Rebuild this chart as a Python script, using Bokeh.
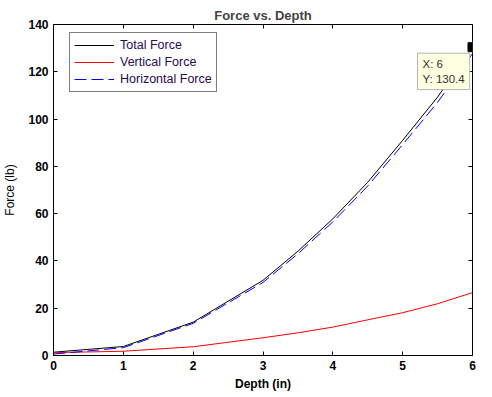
from bokeh.plotting import figure
from bokeh.models import Range1d, LinearAxis, Legend, LegendItem, Label, ColumnDataSource, CustomLabelingPolicy
from bokeh.embed import file_html
from bokeh.resources import INLINE

depth = [0, 1, 2, 3, 3.5, 4, 4.5, 5, 5.5, 6]
total_force = [1.4, 3.8, 14.1, 31.8, 44.1, 57.8, 73.3, 91.0, 109.3, 130.4]
vertical_force = [1.2, 1.8, 3.7, 7.5, 9.6, 12.0, 15.1, 18.1, 21.9, 26.6]
horizontal_force = [0.6, 3.3, 13.6, 30.9, 43.0, 56.5, 71.7, 89.2, 107.1, 127.7]
tip_x = [6]
tip_y = [130.4]
x_ticks = [0, 1, 2, 3, 4, 5, 6]
y_ticks = [0, 20, 40, 60, 80, 100, 120, 140]

FONT = "Liberation Sans"

p = figure(width=492, height=397, output_backend="svg", toolbar_location=None,
           x_range=Range1d(0, 6), y_range=Range1d(0, 140),
           min_border_left=52, min_border_right=20, min_border_top=24, min_border_bottom=42,
           x_axis_type=None, y_axis_type=None)
p.background_fill_color = "white"
p.border_fill_color = "white"
p.outline_line_color = "black"
p.outline_line_width = 1
p.xgrid.visible = False
p.ygrid.visible = False

p.title.text = "Force vs. Depth"
p.title.align = "center"
p.title.vertical_align = "top"
p.title.text_font = FONT
p.title.text_font_size = "13px"
p.title.text_font_style = "bold"
p.title.standoff = 0
p.title.offset = 0

no_labels = CustomLabelingPolicy(code="""
const all = [...indices]
for (const i of all) indices.unset(i)
return indices
""")

def style_axis(ax):
    ax.axis_line_color = "black"
    ax.major_tick_in = 4
    ax.major_tick_out = 0
    ax.minor_tick_line_color = None
    ax.major_tick_line_color = "black"
    ax.major_label_text_font = FONT
    ax.major_label_text_font_style = "bold"
    ax.major_label_text_font_size = "12px"
    ax.major_label_text_color = "black"
    ax.axis_label_text_font = FONT
    ax.axis_label_text_font_size = "12px"
    ax.axis_label_text_color = "black"

xb = LinearAxis(ticker=x_ticks, axis_label="Depth (in)")
style_axis(xb)
xb.axis_label_text_font_style = "bold"
xb.major_label_standoff = 5
xb.axis_label_standoff = 4
p.add_layout(xb, "below")

yl = LinearAxis(ticker=y_ticks, axis_label="Force (lb)")
style_axis(yl)
yl.axis_label_text_font_style = "normal"
yl.major_label_standoff = 5
yl.axis_label_standoff = 8
p.add_layout(yl, "left")

xt = LinearAxis(ticker=x_ticks, fixed_location=y_ticks[-1])
style_axis(xt)
xt.major_label_policy = no_labels
p.add_layout(xt, "above")

yr = LinearAxis(ticker=y_ticks, fixed_location=x_ticks[-1])
style_axis(yr)
yr.major_label_policy = no_labels
p.add_layout(yr, "right")

src = ColumnDataSource(dict(x=depth, t=total_force, v=vertical_force, h=horizontal_force))
r_t = p.line("x", "t", source=src, line_color="black", line_width=1)
r_v = p.line("x", "v", source=src, line_color="red", line_width=1)
r_h = p.line("x", "h", source=src, line_color="blue", line_width=1, line_dash="12 5")

legend = Legend(items=[
    LegendItem(label="Total Force", renderers=[r_t]),
    LegendItem(label="Vertical Force", renderers=[r_v]),
    LegendItem(label="Horizontal Force", renderers=[r_h]),
], location=(16, 263))
legend.label_text_font = FONT
legend.label_text_font_size = "12.5px"
legend.label_text_color = "#2a0a50"
legend.glyph_width = 40
legend.glyph_height = 16
legend.label_height = 16
legend.label_standoff = 6
legend.spacing = 1
legend.padding = 4
legend.margin = 0
legend.border_line_color = "black"
legend.border_line_width = 1
legend.background_fill_color = "white"
legend.background_fill_alpha = 1
p.add_layout(legend, "center")

tsrc = ColumnDataSource(dict(x=tip_x, y=tip_y))
p.scatter("x", "y", source=tsrc, marker="square", size=12, fill_color="#ffffe1", line_color=None)
p.scatter("x", "y", source=tsrc, marker="square", size=9, fill_color="black", line_color="black")

tip = Label(x=tip_x[0], y=tip_y[0], x_offset=-55, y_offset=-6,
            text=f"X: {tip_x[0]}\nY: {tip_y[0]}",
            text_align="left", text_baseline="top",
            text_font=FONT, text_font_size="11.5px", text_color="#333333",
            background_fill_color="#ffffe1", background_fill_alpha=1,
            border_line_color="#b4b4b4", border_line_width=1,
            padding=5)
p.add_layout(tip)

open("out.html", "w").write(file_html(p, INLINE))
